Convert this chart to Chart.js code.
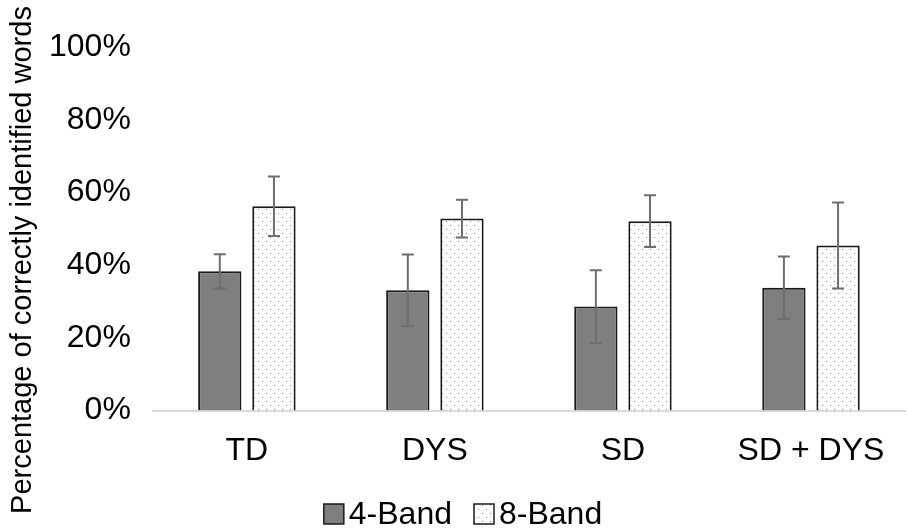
<!DOCTYPE html>
<html>
<head>
<meta charset="utf-8">
<script src="https://cdn.jsdelivr.net/npm/chart.js@4.4.0/dist/chart.umd.min.js"></script>
<style>
  html, body { margin: 0; padding: 0; background: #ffffff; }
  #wrap { width: 908px; height: 529px; }
</style>
</head>
<body>
<div id="wrap"><canvas id="words"></canvas></div>
<script>
const groups = ['TD', 'DYS', 'SD', 'SD + DYS'];
const band4 = [38.3, 33.1, 28.6, 33.8];
const band4Err = [4.7, 9.8, 10.0, 8.6];
const band8 = [56.2, 52.8, 52.1, 45.4];
const band8Err = [8.2, 5.2, 7.1, 11.8];
const yTicks = [0, 20, 40, 60, 80, 100];
const yTitle = 'Percentage of correctly identified words';

const FONT = "'Liberation Sans', Arial, sans-serif";
Chart.defaults.font.family = FONT;
Chart.defaults.color = '#000000';

// dotted fill for the 8-band bars
function dots() {
    const c = document.createElement('canvas');
    c.width = 8;
    c.height = 8;
    const g = c.getContext('2d');
    g.fillStyle = '#ffffff';
    g.fillRect(0, 0, 8, 8);
    g.fillStyle = '#8a8a8a';
    g.fillRect(2, 1, 1, 1);
    g.fillRect(6, 5, 1, 1);
    return g.createPattern(c, 'repeat');
}

const errors = [band4Err, band8Err];

const errorBars = {
    id: 'errorBars',
    afterDatasetsDraw(chart) {
        const ctx = chart.ctx;
        const y = chart.scales.y;
        ctx.save();
        ctx.strokeStyle = '#6e6e6e';
        ctx.lineWidth = 2;
        chart.data.datasets.forEach((ds, i) => {
            const meta = chart.getDatasetMeta(i);
            meta.data.forEach((bar, j) => {
                const v = ds.data[j];
                const e = errors[i][j];
                const top = y.getPixelForValue(v + e);
                const bot = y.getPixelForValue(v - e);
                ctx.beginPath();
                ctx.moveTo(bar.x, top);
                ctx.lineTo(bar.x, bot);
                ctx.moveTo(bar.x - 6, top);
                ctx.lineTo(bar.x + 6, top);
                ctx.moveTo(bar.x - 6, bot);
                ctx.lineTo(bar.x + 6, bot);
                ctx.stroke();
            });
        });
        ctx.restore();
    }
};

// rotated axis title spanning the full height, and the legend under the labels
const extras = {
    id: 'extras',
    afterDraw(chart) {
        const ctx = chart.ctx;
        ctx.save();
        ctx.fillStyle = '#000000';
        ctx.font = '29px ' + FONT;
        ctx.textAlign = 'center';
        ctx.textBaseline = 'middle';
        ctx.translate(23, 260);
        ctx.rotate(-Math.PI / 2);
        ctx.fillText(yTitle, 0, 0);
        ctx.restore();

        ctx.save();
        ctx.font = '32px ' + FONT;
        ctx.textBaseline = 'middle';
        const box = 20, gap = 5, space = 22, cy = 514;
        const items = chart.data.datasets.map(ds => ({
            ds: ds,
            w: box + gap + ctx.measureText(ds.label).width
        }));
        const total = items.reduce((s, it) => s + it.w, 0) + space * (items.length - 1);
        let x = 463 - total / 2;
        items.forEach(it => {
            ctx.fillStyle = it.ds.backgroundColor;
            ctx.fillRect(x, cy - box / 2, box, box);
            ctx.strokeStyle = '#1a1a1a';
            ctx.lineWidth = 1.5;
            ctx.strokeRect(x, cy - box / 2, box, box);
            ctx.fillStyle = '#000000';
            ctx.fillText(it.ds.label, x + box + gap, cy + 1);
            x += it.w + space;
        });
        ctx.restore();
    }
};

new Chart(document.getElementById('words'), {
    type: 'bar',
    data: {
        labels: groups,
        datasets: [
            {
                label: '4-Band',
                data: band4,
                backgroundColor: '#7f7f7f',
                borderColor: '#1a1a1a',
                borderWidth: 2
            },
            {
                label: '8-Band',
                data: band8,
                backgroundColor: dots(),
                borderColor: '#1a1a1a',
                borderWidth: 2
            }
        ]
    },
    options: {
        responsive: true,
        maintainAspectRatio: false,
        animation: false,
        categoryPercentage: 0.576,
        barPercentage: 0.8,
        layout: {
            padding: { top: 47, right: 3, left: 35, bottom: 46 }
        },
        plugins: {
            tooltip: { enabled: false },
            legend: { display: false }
        },
        scales: {
            x: {
                grid: { display: false },
                border: { display: true, color: '#d9d9d9', width: 2 },
                ticks: {
                    font: { size: 32 },
                    padding: 13
                }
            },
            y: {
                min: 0,
                max: 100,
                grid: { display: false },
                border: { display: false },
                afterBuildTicks: (axis) => {
                    axis.ticks = yTicks.map(v => ({ value: v }));
                },
                ticks: {
                    font: { size: 32 },
                    padding: 14,
                    callback: (v) => v + '%'
                }
            }
        }
    },
    plugins: [errorBars, extras]
});
</script>
</body>
</html>
